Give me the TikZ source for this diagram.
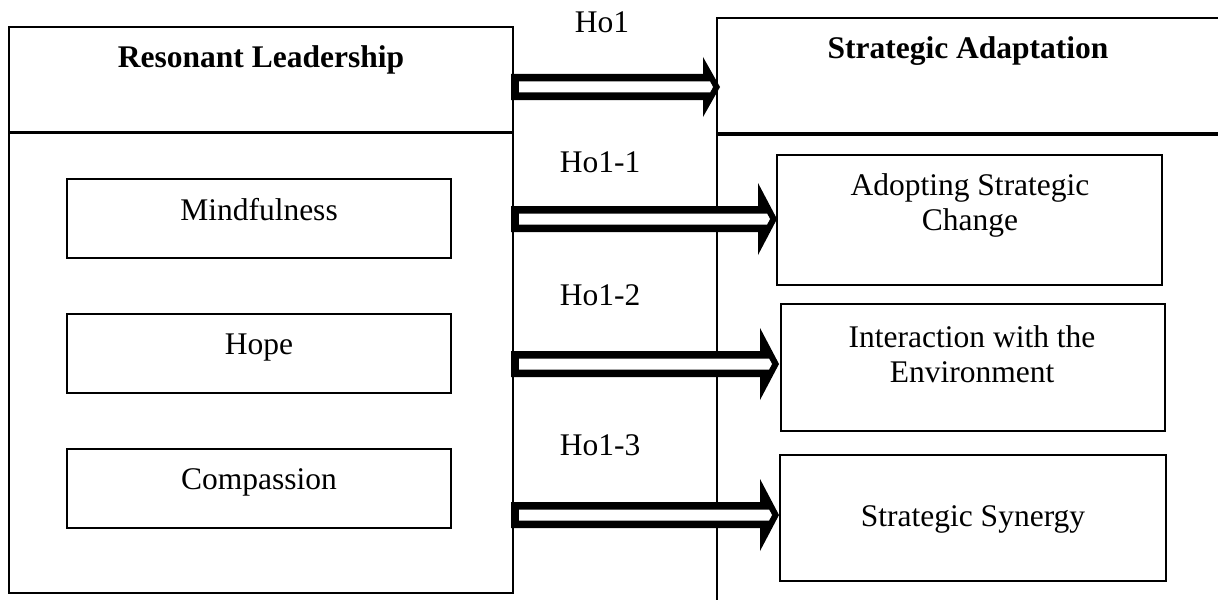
\documentclass[tikz,border=0pt]{standalone}
\usepackage{fontspec}
\setmainfont{Liberation Serif}
\usetikzlibrary{calc}
\tikzset{
  box/.style={draw, line width=0.9pt, inner sep=0pt, outer sep=0pt, anchor=north west},
  txt/.style={font=\fontsize{15.75}{17.5}\selectfont, inner sep=0pt, align=center, anchor=base},
  hd/.style={font=\fontsize{15.75}{17.5}\selectfont\bfseries, inner sep=0pt, anchor=base},
}
% #1 start coordinate, #2 end coordinate (tip), #3 head half-height (pt), #4 head length (pt)
\newcommand\hollowarrow[4]{%
  \fill[black] let \p1=(#1), \p2=(#2) in
    (\x1-1pt,\y1+6.5pt) -- (\x2-#4,\y1+6.5pt) -- (\x2-#4,\y1+#3) -- (\x2,\y1)
    -- (\x2-#4,\y1-#3) -- (\x2-#4,\y1-6.5pt) -- (\x1-1pt,\y1-6.5pt) -- cycle;
  \fill[white] let \p1=(#1), \p2=(#2) in
    (\x1+3pt,\y1+2.75pt) -- (\x2-5pt,\y1+2.75pt) -- (\x2-3.5pt,\y1)
    -- (\x2-5pt,\y1-2.75pt) -- (\x1+3pt,\y1-2.75pt) -- cycle;
}
\begin{document}
\begin{tikzpicture}[x=0.5pt, y=-0.5pt]
\useasboundingbox (0,0) rectangle (1218,599);
\clip (0,0) rectangle (1218,599);
% left side
\node[box, minimum width=252pt, minimum height=52.5pt] (lt) at (9,27) {};
\node[box, minimum width=252pt, minimum height=230pt] (lb) at (9,133) {};
\node[box, minimum width=192pt, minimum height=39.5pt] (mi) at (67,179) {};
\node[box, minimum width=192pt, minimum height=39.5pt] (hp) at (67,314) {};
\node[box, minimum width=192pt, minimum height=39.5pt] (cp) at (67,449) {};
% right side
\node[box, minimum width=261.5pt, minimum height=57.5pt] (rt) at (717,18) {};
\node[box, minimum width=261.5pt, minimum height=242.5pt] (rb) at (717,135) {};
\node[box, minimum width=192.5pt, minimum height=65pt] (ad) at (777,155) {};
\node[box, minimum width=192pt, minimum height=63.5pt] (ie) at (781,304) {};
\node[box, minimum width=193pt, minimum height=63pt] (ss) at (780,455) {};
% texts
\node[hd] (tl) at (261,68) {Resonant Leadership};
\node[hd] (tr) at (968,59) {Strategic Adaptation};
\node[txt] (tmi) at (259,220) {Mindfulness};
\node[txt] (thp) at (259,354) {Hope};
\node[txt] (tcp) at (259,489) {Compassion};
\node[txt] (tad) at (970,230) {Adopting Strategic\\Change};
\node[txt] (tie) at (972,382) {Interaction with the\\Environment};
\node[txt] (tss) at (973,526) {Strategic Synergy};
% hypothesis labels
\node[txt] (h0) at (602,33) {Ho1};
\node[txt] (h1) at (600,172) {Ho1-1};
\node[txt] (h2) at (600,305) {Ho1-2};
\node[txt] (h3) at (600,455) {Ho1-3};
% arrows
\coordinate (a0s) at (lt.east |- 0,87);
\coordinate (a0e) at (720,87);
\coordinate (a1s) at (lb.east |- 0,219);
\coordinate (a1e) at (ad.west |- 0,219);
\coordinate (a2s) at (lb.east |- 0,364);
\coordinate (a2e) at (779,364);
\coordinate (a3s) at (lb.east |- 0,515);
\coordinate (a3e) at (779,515);
\hollowarrow{a0s}{a0e}{15pt}{8.5pt}
\hollowarrow{a1s}{a1e}{18pt}{9.5pt}
\hollowarrow{a2s}{a2e}{18pt}{9.5pt}
\hollowarrow{a3s}{a3e}{18pt}{9.5pt}
\end{tikzpicture}
\end{document}
